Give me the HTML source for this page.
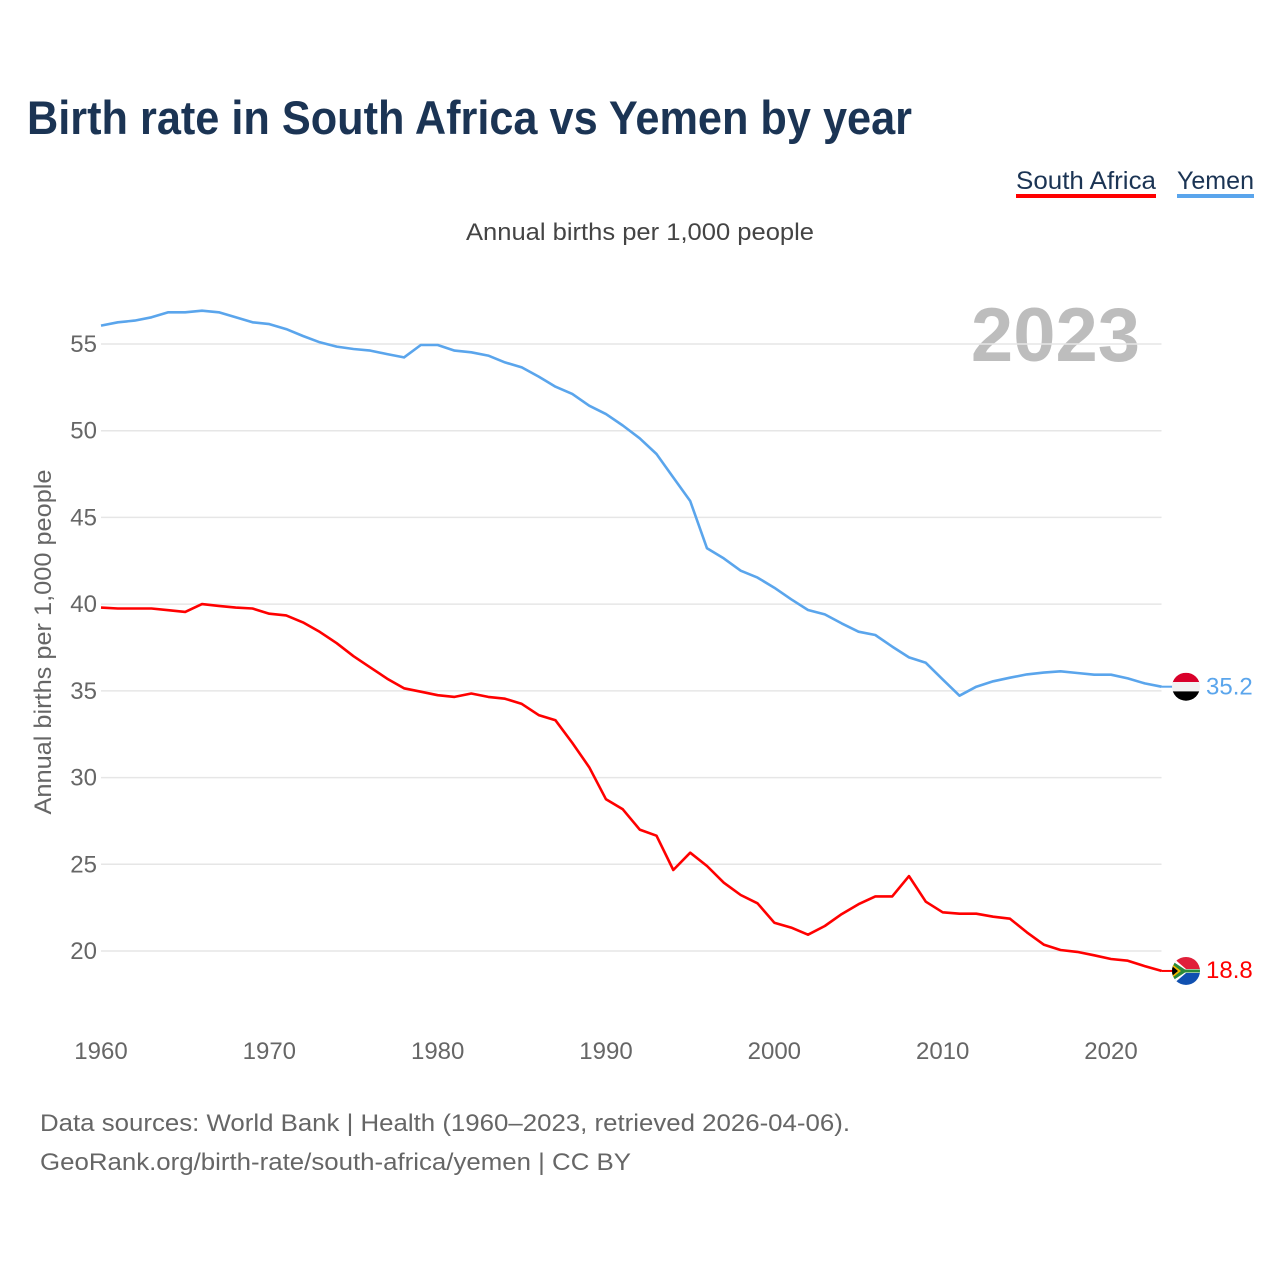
<!DOCTYPE html>
<html><head><meta charset="utf-8">
<style>
html,body{margin:0;padding:0;background:#fff;}
body{width:1280px;height:1280px;position:relative;font-family:"Liberation Sans",sans-serif;overflow:hidden;}
</style></head>
<body>
<svg id="chart" width="1280" height="1280" viewBox="0 0 1280 1280" xmlns="http://www.w3.org/2000/svg" style="position:absolute;left:0;top:0">
  <text x="27" y="134" font-size="47" font-weight="bold" fill="#1b3454" textLength="885" lengthAdjust="spacingAndGlyphs" font-family="Liberation Sans, sans-serif">Birth rate in South Africa vs Yemen by year</text>
  <g font-size="25" fill="#1b3454">
    <g>
      <text x="1016" y="189" textLength="140" lengthAdjust="spacingAndGlyphs">South Africa</text>
      <rect x="1016" y="194" width="140" height="4" fill="#ff0000"/>
    </g>
    <g>
      <text x="1177" y="189" textLength="77" lengthAdjust="spacingAndGlyphs">Yemen</text>
      <rect x="1177" y="194" width="77" height="4" fill="#5aa5ec"/>
    </g>
  </g>
  <text x="640" y="240" font-size="24" fill="#444" text-anchor="middle" textLength="348" lengthAdjust="spacingAndGlyphs">Annual births per 1,000 people</text>
  <text x="1140" y="361" font-size="76" font-weight="bold" fill="#bdbdbd" text-anchor="end">2023</text>
  <text transform="translate(51,642) rotate(-90)" font-size="24" fill="#666" text-anchor="middle" textLength="345" lengthAdjust="spacingAndGlyphs">Annual births per 1,000 people</text>
  <g id="grid"></g>
  <g id="series"></g>
  <text x="40" y="1131" font-size="24" fill="#666" textLength="810" lengthAdjust="spacingAndGlyphs">Data sources: World Bank | Health (1960–2023, retrieved 2026-04-06).</text>
  <text x="40" y="1170" font-size="24" fill="#666" textLength="591" lengthAdjust="spacingAndGlyphs">GeoRank.org/birth-rate/south-africa/yemen | CC BY</text>
</svg>
<script>
const years = [];
for (let y = 1960; y <= 2023; y++) years.push(y);
const southAfrica = [39.8,39.75,39.75,39.75,39.65,39.55,40.0,39.9,39.8,39.75,39.45,39.35,38.95,38.4,37.75,37.0,36.35,35.7,35.15,34.95,34.75,34.65,34.85,34.65,34.55,34.25,33.6,33.3,32.0,30.6,28.75,28.17,27.0,26.65,24.67,25.67,24.9,23.94,23.23,22.75,21.63,21.35,20.94,21.44,22.13,22.7,23.15,23.15,24.32,22.84,22.23,22.15,22.15,21.98,21.86,21.08,20.37,20.06,19.95,19.75,19.54,19.44,19.13,18.85];
const yemen = [56.06,56.25,56.35,56.54,56.83,56.83,56.92,56.83,56.54,56.25,56.15,55.86,55.46,55.1,54.85,54.71,54.62,54.42,54.23,54.94,54.94,54.62,54.52,54.33,53.94,53.65,53.12,52.54,52.12,51.44,50.96,50.3,49.56,48.66,47.3,45.95,43.22,42.64,41.93,41.53,40.95,40.28,39.66,39.41,38.89,38.41,38.22,37.55,36.93,36.62,35.66,34.72,35.24,35.55,35.76,35.95,36.05,36.13,36.03,35.93,35.93,35.72,35.43,35.24];
const yTicks = [20,25,30,35,40,45,50,55];
const xTicks = [1960,1970,1980,1990,2000,2010,2020];
const lastLabels = ["18.8","35.2"];

const NS = "http://www.w3.org/2000/svg";
const X0 = 101, X1 = 1161.5, Y55 = 344, Y20 = 951;
function xs(yr){ return X0 + (yr - 1960) * (X1 - X0) / 63; }
function ys(v){ return Y20 - (v - 20) * (Y20 - Y55) / 35; }
function mk(tag, attrs, parent){ const e = document.createElementNS(NS, tag); for (const k in attrs) e.setAttribute(k, attrs[k]); parent.appendChild(e); return e; }

const grid = document.getElementById('grid');
yTicks.forEach(t => {
  const l = mk('line', {x1: X0, x2: X1, y1: ys(t), y2: ys(t), stroke: '#e6e6e6', 'stroke-width': 1.5}, grid);
  
  
  const tx = mk('text', {x: 97, y: ys(t) + 8, 'font-size': 24, fill: '#666', 'text-anchor': 'end'}, grid);
  tx.textContent = t;
  
  
});
xTicks.forEach(t => {
  const tx = mk('text', {x: xs(t), y: 1059, 'font-size': 24, fill: '#666', 'text-anchor': 'middle'}, grid);
  tx.textContent = t;
  
  
});

const ser = document.getElementById('series');
function line(vals, color, name){
  const d = vals.map((v, i) => (i ? 'L' : 'M') + xs(years[i]).toFixed(1) + ' ' + ys(v).toFixed(1)).join(' ');
  const p = mk('path', {d: d, fill: 'none', stroke: color, 'stroke-width': 2.6, 'stroke-linejoin': 'round'}, ser);
  
  
}
line(yemen, '#5aa5ec', 'yemen-line');
line(southAfrica, '#ff0000', 'south-africa-line');

const yy = ys(yemen[yemen.length - 1]), sy = ys(southAfrica[southAfrica.length - 1]);
mk('line', {x1: X1, x2: 1174, y1: yy, y2: yy, stroke: '#5aa5ec', 'stroke-width': 2}, ser);
mk('line', {x1: X1, x2: 1174, y1: sy, y2: sy, stroke: '#ff0000', 'stroke-width': 2}, ser);

const defs = mk('defs', {}, ser);
const c1 = mk('clipPath', {id: 'cy'}, defs); mk('circle', {cx: 1186, cy: yy, r: 14}, c1);
const c2 = mk('clipPath', {id: 'cs'}, defs); mk('circle', {cx: 1186, cy: sy, r: 14}, c2);

const fy = mk('g', {'clip-path': 'url(#cy)'}, ser);


mk('rect', {x: 1172, y: yy - 14, width: 28, height: 10, fill: '#d9002a'}, fy);
mk('rect', {x: 1172, y: yy - 4.7, width: 28, height: 9.4, fill: '#f2f2f2'}, fy);
mk('rect', {x: 1172, y: yy + 4.7, width: 28, height: 10, fill: '#000'}, fy);

const fs = mk('g', {'clip-path': 'url(#cs)'}, ser);


mk('rect', {x: 1172, y: sy - 14, width: 28, height: 14, fill: '#e0203a'}, fs);
mk('rect', {x: 1172, y: sy, width: 28, height: 14, fill: '#1050b0'}, fs);
mk('path', {d: `M1172 ${sy-14} L1186 ${sy-2} L1200 ${sy-2} L1200 ${sy+2} L1186 ${sy+2} L1172 ${sy+14} Z`, fill: '#fff'}, fs);
mk('path', {d: `M1172 ${sy-10} L1185 ${sy-1.5} L1200 ${sy-1.5} L1200 ${sy+1.5} L1185 ${sy+1.5} L1172 ${sy+10} Z`, fill: '#2a8a3a'}, fs);
mk('path', {d: `M1172 ${sy-7} L1181 ${sy} L1172 ${sy+7} Z`, fill: '#f5b800'}, fs);
mk('path', {d: `M1172 ${sy-5} L1178 ${sy} L1172 ${sy+5} Z`, fill: '#000'}, fs);

const ly = mk('text', {x: 1206, y: yy + 8, 'font-size': 24, fill: '#5aa5ec'}, ser);
ly.textContent = lastLabels[1];


const ls = mk('text', {x: 1206, y: sy + 7, 'font-size': 24, fill: '#ff0000'}, ser);
ls.textContent = lastLabels[0];


</script>
</body></html>
